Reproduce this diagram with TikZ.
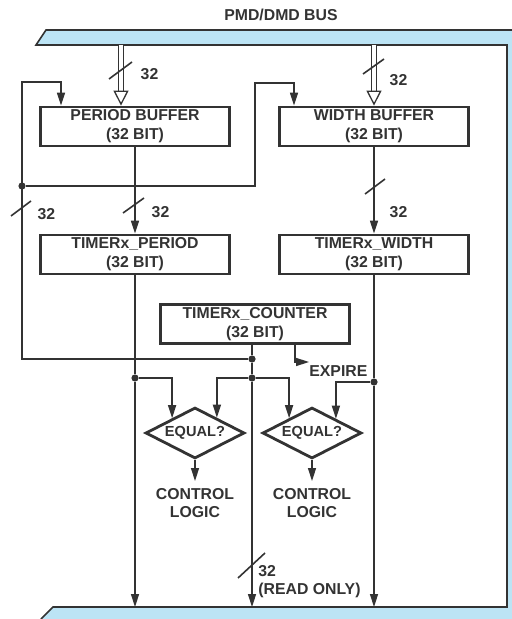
\documentclass[tikz,border=0pt]{standalone}
\usepackage{fontspec}
\setmainfont{Liberation Sans}
\usepackage{tikz}
\usetikzlibrary{arrows.meta,shapes.geometric,calc}
\definecolor{busblue}{HTML}{BCE4F5}
\definecolor{inkgray}{HTML}{333333}
\tikzset{
  reg/.style={draw=inkgray,line width=1.4pt,fill=white,align=center,minimum width=94.5pt,
    minimum height=19.5pt,inner sep=1pt,text=inkgray,font=\bfseries\fontsize{7.9}{9.5}\selectfont},
  test/.style={diamond,aspect=2,draw=inkgray,line width=1.4pt,minimum width=49.5pt,minimum height=25.5pt,
    inner sep=0pt,text=inkgray,font=\bfseries\fontsize{7.3}{8}\selectfont},
  lbl/.style={text=inkgray,inner sep=0pt,font=\bfseries\fontsize{7.9}{9}\selectfont},
  ctl/.style={lbl,align=center,inner ysep=3.5pt,anchor=north},
  flow/.style={-{Triangle[length=6.5pt,width=4pt]},draw=inkgray,line width=0.75pt},
  busflow/.style={double=white,double distance=1.7pt,line width=0.65pt,draw=inkgray,
    -{Triangle[open,length=7.5pt,width=7.5pt]}},
  tick/.style={draw=inkgray,line width=0.8pt},
  dot/.style={circle,fill=inkgray,inner sep=0pt,minimum size=3.6pt}
}
\begin{document}
\begin{tikzpicture}[x=0.5pt,y=-0.5pt]
  \useasboundingbox (0,0) rectangle (512,619);
  % Bus
  \fill[busblue] (36,45) -- (46,30) -- (512,30) -- (512,619) -- (41,619) -- (53,607)
    -- (507,607) -- (507,45) -- cycle;
  \draw[inkgray,line width=0.8pt] (512,30) -- (46,30) -- (36,45) -- (507,45) -- (507,607)
    -- (53,607) -- (41,619);
  \node[lbl] (title) at (281,15) {PMD/DMD BUS};
  \coordinate (tbus) at (0,45);
  \coordinate (bbus) at (0,607);
  % Registers
  \node[reg] (pbuf) at (135,126.5) {PERIOD BUFFER\\(32 BIT)};
  \node[reg] (wbuf) at (374,126.5) {WIDTH BUFFER\\(32 BIT)};
  \node[reg] (tper) at (135,254.5) {TIMERx\_PERIOD\\(32 BIT)};
  \node[reg] (twid) at (374,254.5) {TIMERx\_WIDTH\\(32 BIT)};
  \node[reg] (tcnt) at (255,324) {TIMERx\_COUNTER\\(32 BIT)};
  % Compare
  \node[test] (eq1) at (195,433) {EQUAL?};
  \node[test] (eq2) at (312,433) {EQUAL?};
  \node[ctl] (ctl1) at (195,481) {CONTROL\\LOGIC};
  \node[ctl] (ctl2) at (312,481) {CONTROL\\LOGIC};
  \node[lbl,anchor=west] (expire) at (309,371) {EXPIRE};
  % Junctions
  \node[dot] (j1) at (135,378) {};
  \node[dot] (j2) at (252,359) {};
  \node[dot] (j3) at (252,378) {};
  \node[dot] (j4) at (374,382) {};
  \node[dot] (jd) at (22,186) {};
  \coordinate (pin) at (121,45);
  \coordinate (fbl) at (22,82);
  \coordinate (pfb) at (61,82);
  \coordinate (wfb) at (255,83);
  \coordinate (wfb2) at (294,83);
  \coordinate (xp) at (295,362);
  % Bus inputs
  \draw[busflow] (pin) -- (pin |- pbuf.north);
  \draw[busflow] (tbus -| wbuf.north) -- (wbuf.north);
  % Buffers to timers
  \draw[flow] (pbuf) -- (tper);
  \draw[flow] (wbuf) -- (twid);
  % Feedback
  \draw[flow] (j2) -| (fbl) -- (pfb) -- (pfb |- pbuf.north);
  \draw[flow] (jd) -| (wfb) -- (wfb2) -- (wfb2 |- wbuf.north);
  % To bus and comparators
  \draw[flow] (tper) -- (j1) -- (j1 |- bbus);
  \draw[flow] (twid) -- (j4) -- (j4 |- bbus);
  \draw[flow] (tcnt.south -| j2) -- (j2) -- (j3) -- (j3 |- bbus);
  \draw[flow] (j1) -| ($(eq1.north)!0.45!(eq1.west)$);
  \draw[flow] (j3) -| ($(eq1.north)!0.43!(eq1.east)$);
  \draw[flow] (j3) -| ($(eq2.north)!0.45!(eq2.west)$);
  \draw[flow] (j4) -| ($(eq2.north)!0.47!(eq2.east)$);
  \draw[flow] (eq1) -- (ctl1);
  \draw[flow] (eq2) -- (ctl2);
  \draw[flow] (tcnt.south -| xp) -- (xp) -- (xp -| expire.west);
  % Width marks
  \foreach \x/\y/\dx/\dy in {120.5/70.5/11.5/8.5, 373.5/66.5/10.5/7.5, 21/208.5/10/7.5,
    133.5/205.5/10.5/7.5, 375/186.5/10/7.5, 251.5/565.5/13.5/12.5}
    \draw[tick] (\x-\dx,\y+\dy) -- (\x+\dx,\y-\dy);
  \foreach \x/\y [count=\i] in {149.5/74.5, 398.5/80, 46.5/214, 160.5/212, 398.5/212}
    \node[lbl] (w\i) at (\x,\y) {32};
  \node[lbl,align=left,anchor=north west] (ro) at (258,565) {32\\(READ ONLY)};
\end{tikzpicture}
\end{document}
